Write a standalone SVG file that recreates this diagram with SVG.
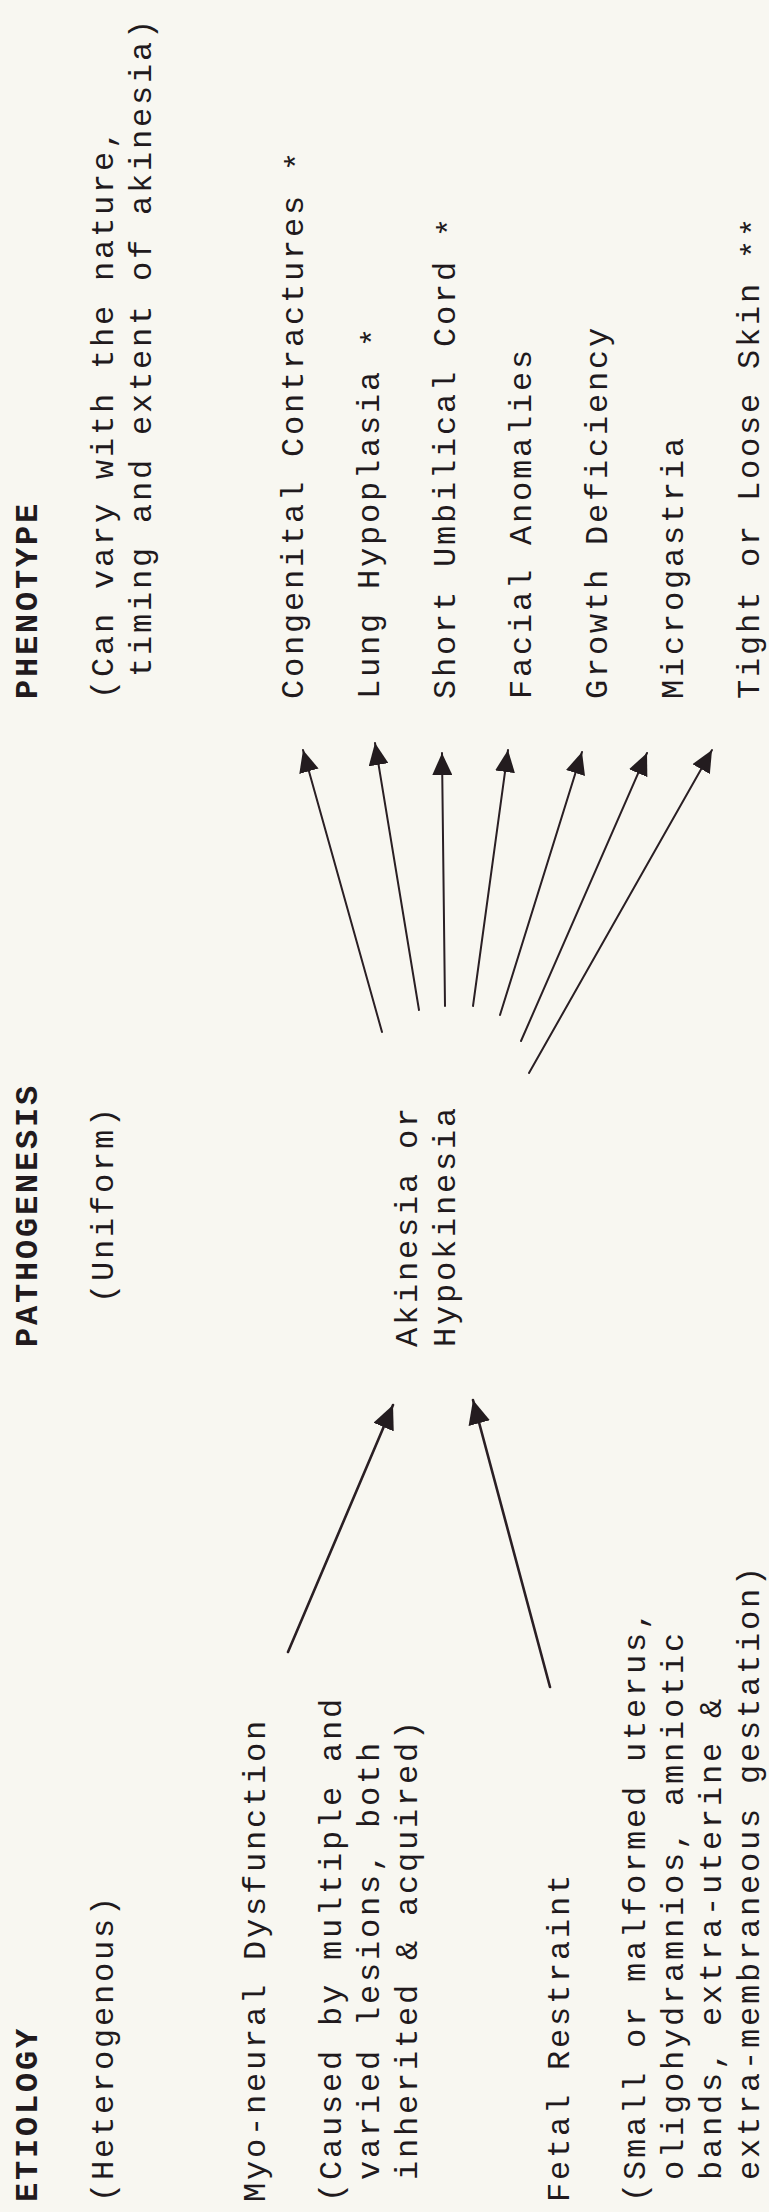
<svg xmlns="http://www.w3.org/2000/svg" width="769" height="2212" viewBox="0 0 769 2212">
<style>
.t{font-family:"Liberation Mono","DejaVu Sans Mono",monospace;font-size:32px;letter-spacing:2.8px;fill:#211a1d}
.b{font-weight:bold}
.c{stroke:#2a1f24;fill:none;stroke-linecap:round}
.thin{stroke-width:2}
.thick{stroke-width:2.6}
</style>
<defs>
<marker id="ah" viewBox="0 0 22 20" refX="22" refY="10" markerWidth="22" markerHeight="20" markerUnits="userSpaceOnUse" orient="auto">
<path d="M0,0 L22,10 L0,20 z" fill="#231c1f"/>
</marker>
<marker id="ahL" viewBox="0 0 24 22" refX="24" refY="11" markerWidth="24" markerHeight="22" markerUnits="userSpaceOnUse" orient="auto">
<path d="M0,0 L24,11 L0,22 z" fill="#231c1f"/>
</marker>
</defs>
<rect width="769" height="2212" fill="#f8f7f1"/>

<g id="etiology-header">
<text class="t b" transform="translate(37,2202) rotate(-90)">ETIOLOGY</text>
<text class="t" transform="translate(113,2202) rotate(-90)">(Heterogenous)</text>
</g>
<g id="myo-neural">
<text class="t" transform="translate(265,2202) rotate(-90)">Myo-neural Dysfunction<tspan x="0" dy="76">(Caused by multiple and</tspan><tspan x="22" dy="38">varied lesions, both</tspan><tspan x="22" dy="38">inherited &amp; acquired)</tspan></text>
</g>
<g id="fetal-restraint">
<text class="t" transform="translate(569,2202) rotate(-90)">Fetal Restraint<tspan x="0" dy="76">(Small or malformed uterus,</tspan><tspan x="22" dy="38">oligohydramnios, amniotic</tspan><tspan x="22" dy="38">bands, extra-uterine &amp;</tspan><tspan x="22" dy="38">extra-membraneous gestation)</tspan></text>
</g>

<g id="pathogenesis-header">
<text class="t b" transform="translate(37,1347) rotate(-90)">PATHOGENESIS</text>
<text class="t" transform="translate(113,1303) rotate(-90)">(Uniform)</text>
</g>
<g id="akinesia">
<text class="t" transform="translate(417,1347) rotate(-90)">Akinesia or<tspan x="0" dy="38">Hypokinesia</tspan></text>
</g>

<g id="phenotype-header">
<text class="t b" transform="translate(37,699) rotate(-90)">PHENOTYPE</text>
<text class="t" transform="translate(113,699) rotate(-90)">(Can vary with the nature,<tspan x="22" dy="38">timing and extent of akinesia)</tspan></text>
</g>
<g id="congenital-contractures"><text class="t" transform="translate(303,699) rotate(-90)">Congenital Contractures <tspan dy="4">*</tspan></text></g>
<g id="lung-hypoplasia"><text class="t" transform="translate(379,699) rotate(-90)">Lung Hypoplasia <tspan dy="4">*</tspan></text></g>
<g id="short-umbilical-cord"><text class="t" transform="translate(455,699) rotate(-90)">Short Umbilical Cord <tspan dy="4">*</tspan></text></g>
<g id="facial-anomalies"><text class="t" transform="translate(531,699) rotate(-90)">Facial Anomalies</text></g>
<g id="growth-deficiency"><text class="t" transform="translate(607,699) rotate(-90)">Growth Deficiency</text></g>
<g id="microgastria"><text class="t" transform="translate(683,699) rotate(-90)">Microgastria</text></g>
<g id="tight-loose-skin"><text class="t" transform="translate(759,699) rotate(-90)">Tight or Loose Skin <tspan dy="4">**</tspan></text></g>

<g id="connectors">
<line class="c thick" x1="288" y1="1652" x2="393" y2="1405" marker-end="url(#ahL)"/>
<line class="c thick" x1="550" y1="1687" x2="473" y2="1400" marker-end="url(#ahL)"/>
<line class="c thin" x1="382" y1="1032" x2="303" y2="750" marker-end="url(#ah)"/>
<line class="c thin" x1="419" y1="1010" x2="375" y2="743" marker-end="url(#ah)"/>
<line class="c thin" x1="445" y1="1006" x2="442" y2="753" marker-end="url(#ah)"/>
<line class="c thin" x1="473" y1="1006" x2="508" y2="750" marker-end="url(#ah)"/>
<line class="c thin" x1="500" y1="1015" x2="582" y2="752" marker-end="url(#ah)"/>
<line class="c thin" x1="521" y1="1041" x2="647" y2="753" marker-end="url(#ah)"/>
<line class="c thin" x1="529" y1="1073" x2="712" y2="750" marker-end="url(#ah)"/>
</g>
</svg>
